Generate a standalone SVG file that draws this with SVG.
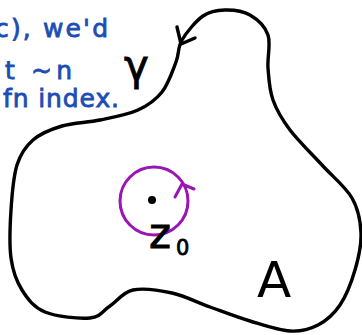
<svg xmlns="http://www.w3.org/2000/svg" width="362" height="335" viewBox="0 0 362 335">
<style>
.ink{fill:none;stroke:#000;stroke-width:3.4;stroke-linecap:round;stroke-linejoin:round}
.pur{fill:none;stroke:#9a14b6;stroke-width:3;stroke-linecap:round;stroke-linejoin:round}
.note{fill:#1c4db3;stroke:#1c4db3;stroke-width:0.8;font-family:"DejaVu Sans","Liberation Sans",sans-serif;font-size:25px}
.lab{fill:#000;font-family:"DejaVu Sans","Liberation Sans",sans-serif}
</style>
<rect width="362" height="335" fill="#fff"/>
<g id="note">
<text class="note" x="-5" y="37" textLength="113" lengthAdjust="spacing">c), we'd</text>
<text class="note" x="5" y="79" textLength="67" lengthAdjust="spacing">t ~n</text>
<text class="note" x="3" y="107" textLength="116" lengthAdjust="spacing">fn index.</text>
</g>
<g id="curve-gamma">
<path class="ink" d="M182,40 C177.5,47.67 179.33,53.33 176,62 C172.67,70.67 168.33,84 162,92 C155.67,100 148.33,105.33 138,110 C127.67,114.67 112.67,117.33 100,120 C87.33,122.67 73.17,122.67 62,126 C50.83,129.33 40.5,133.5 33,140 C25.5,146.5 20.670,153.33 17,165 C13.33,176.67 12,194.5 11,210 C10,225.5 9.17,244.67 11,258 C12.83,271.33 16.33,281 22,290 C27.67,299 33.67,307.33 45,312 C56.33,316.67 79.17,319 90,318 C100.83,317 102.83,310.67 110,306 C117.17,301.33 122.67,292.17 133,290 C143.33,287.83 159.17,290.17 172,293 C184.83,295.83 197,302.33 210,307 C223,311.67 236.67,317 250,321 C263.33,325 278.67,330.33 290,331 C301.33,331.67 309.67,329.33 318,325 C326.33,320.67 333.83,314.17 340,305 C346.17,295.83 351.5,282 355,270 C358.5,258 361.5,245 361,233 C360.5,221 358.5,209.33 352,198 C345.5,186.67 332.33,176.33 322,165 C311.67,153.67 298.17,140.83 290,130 C281.83,119.17 276.67,110.33 273,100 C269.33,89.67 268.83,78.83 268,68 C267.17,57.17 271,43.83 268,35 C265,26.17 257.17,19.17 250,15 C242.83,10.83 232.83,9.83 225,10 C217.17,10.17 210.17,11 203,16 C195.83,21 186.5,32.33 182,40 Z"/>
<path class="ink" d="M177,27 L181,44 L195,38"/>
<text class="lab" x="124" y="80" font-size="42" stroke="#000" stroke-width="0.8">γ</text>
</g>
<g id="z0">
<circle class="pur" cx="154" cy="201" r="34"/>
<path class="pur" d="M175,197 L182,184 L194,189"/>
<circle cx="152" cy="200" r="4" fill="#000"/>
<text class="lab" x="149" y="248" font-size="42" stroke="#000" stroke-width="0.8">z</text>
<text class="lab" x="176" y="255" font-size="21" stroke="#000" stroke-width="0.8">0</text>
</g>
<g id="region-A">
<text class="lab" x="257" y="297" font-size="50">A</text>
</g>
</svg>
